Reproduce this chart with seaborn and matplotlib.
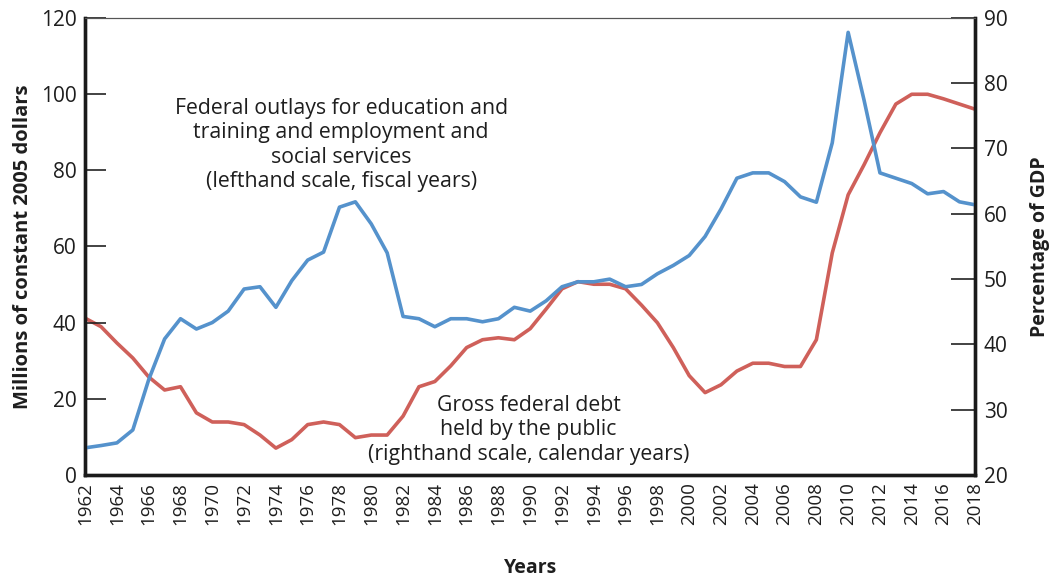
import matplotlib
matplotlib.use("Agg")
import matplotlib.pyplot as plt
import numpy as np
import pandas as pd
import seaborn as sns

years = list(range(1962, 2019))

# federal outlays, millions of constant 2005 dollars (left scale)
outlays = [
    7.1, 7.7, 8.4, 11.8, 25.0, 35.7, 41.0, 38.3, 40.0, 43.0,
    48.8, 49.4, 44.0, 51.0, 56.4, 58.5, 70.3, 71.7, 65.9, 58.3,
    41.6, 41.0, 38.9, 41.0, 41.0, 40.2, 41.0, 44.0, 43.0, 45.7,
    49.4, 50.7, 50.7, 51.4, 49.4, 50.0, 52.8, 55.0, 57.6, 62.6,
    69.8, 77.9, 79.3, 79.3, 77.0, 73.0, 71.6, 87.2, 116.2, 98.4,
    79.3, 77.9, 76.5, 73.8, 74.4, 71.7, 70.9,
]

# gross federal debt held by the public, percent of GDP (right scale)
debt = [
    44.0, 42.7, 40.2, 37.9, 35.0, 33.0, 33.5, 29.5, 28.1, 28.1,
    27.7, 26.1, 24.1, 25.4, 27.7, 28.1, 27.7, 25.7, 26.1, 26.1,
    29.0, 33.5, 34.3, 36.7, 39.5, 40.7, 41.0, 40.7, 42.4, 45.4,
    48.5, 49.6, 49.2, 49.2, 48.5, 46.0, 43.3, 39.5, 35.2, 32.6,
    33.8, 35.9, 37.1, 37.1, 36.6, 36.6, 40.7, 54.0, 62.9, 67.5,
    72.4, 76.8, 78.3, 78.3, 77.6, 76.8, 76.0,
]

left_ticks = [0, 20, 40, 60, 80, 100, 120]
right_ticks = [20, 30, 40, 50, 60, 70, 80, 90]
x_ticks = list(range(1962, 2019, 2))

BLUE = "#5592cc"
RED = "#cf605a"
INK = "#1e1e1e"

df = pd.DataFrame({"year": years, "outlays": outlays, "debt": debt})

sns.set_style("ticks")
plt.rcParams["font.family"] = ["Open Sans", "DejaVu Sans"]

fig = plt.figure(figsize=(10.51, 5.77), dpi=100)
ax = fig.add_axes([0.081, 0.177, 0.847, 0.792])
ax2 = ax.twinx()

sns.lineplot(data=df, x="year", y="debt", color=RED, linewidth=2.6, ax=ax2)
sns.lineplot(data=df, x="year", y="outlays", color=BLUE, linewidth=2.6, ax=ax)
ax.set_zorder(ax2.get_zorder() + 1)
ax.patch.set_visible(False)

ax.set_xlim(1962, 2018)
ax.set_ylim(0, 120)
ax2.set_ylim(20, 90)
ax.set_xticks(x_ticks)
ax.set_xticklabels([str(y) for y in x_ticks], rotation=90, fontsize=13.5, color=INK)
ax.set_yticks(left_ticks)
ax.set_yticklabels([str(t) for t in left_ticks], fontsize=15, color=INK)
ax2.set_yticks(right_ticks)
ax2.set_yticklabels([str(t) for t in right_ticks], fontsize=15, color=INK)

ax.tick_params(axis="y", direction="in", length=15, width=1.2, color="#222222", pad=6)
ax.tick_params(axis="x", length=0, pad=5)
ax2.tick_params(axis="y", direction="in", length=17, width=1.2, color="#222222", pad=6)

for a in (ax, ax2):
    for side in ("left", "bottom", "right"):
        a.spines[side].set_linewidth(2.4)
        a.spines[side].set_color("#1a1a1a")
    a.spines["top"].set_visible(True)
    a.spines["top"].set_linewidth(0.8)
    a.spines["top"].set_color("#555555")

ax.set_xlabel("Years", fontsize=14, fontweight="bold", labelpad=24, color=INK)
ax.set_ylabel("Millions of constant 2005 dollars", fontsize=14.5, fontweight="bold",
              labelpad=6, color=INK)
ax2.set_ylabel("Percentage of GDP", fontsize=14, fontweight="bold", labelpad=16,
               color=INK)

ax.text(1978.1, 86.6, "Federal outlays for education and\ntraining and employment and\n"
        "social services\n(lefthand scale, fiscal years)",
        ha="center", va="center", fontsize=15.3, color=INK, linespacing=1.22)
ax.text(1989.9, 11.8, "Gross federal debt\nheld by the public\n"
        "(righthand scale, calendar years)",
        ha="center", va="center", fontsize=15.3, color=INK, linespacing=1.22)

fig.savefig("out.png", dpi=100)
